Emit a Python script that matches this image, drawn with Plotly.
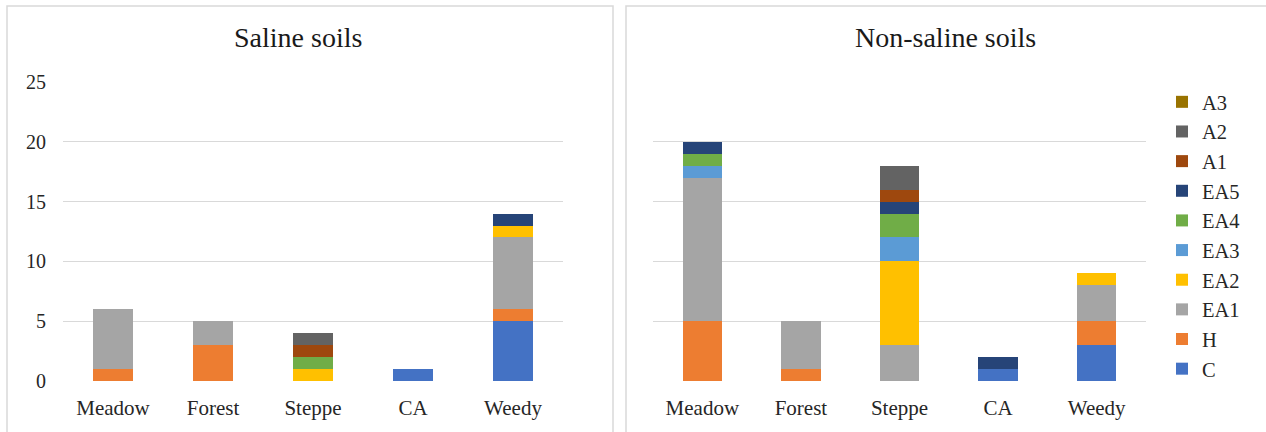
import plotly.graph_objects as go

W, H = 1266, 432

categories = ["Meadow", "Forest", "Steppe", "CA", "Weedy"]
series = ["C", "H", "EA1", "EA2", "EA3", "EA4", "EA5", "A1", "A2", "A3"]
colors = ["#4472C4", "#ED7D31", "#A5A5A5", "#FFC000", "#5B9BD5",
          "#70AD47", "#264478", "#9E480E", "#636363", "#997300"]

saline_C   = [0, 0, 0, 1, 5]
saline_H   = [1, 3, 0, 0, 1]
saline_EA1 = [5, 2, 0, 0, 6]
saline_EA2 = [0, 0, 1, 0, 1]
saline_EA3 = [0, 0, 0, 0, 0]
saline_EA4 = [0, 0, 1, 0, 0]
saline_EA5 = [0, 0, 0, 0, 1]
saline_A1  = [0, 0, 1, 0, 0]
saline_A2  = [0, 0, 1, 0, 0]
saline_A3  = [0, 0, 0, 0, 0]

nonsaline_C   = [0, 0, 0, 1, 3]
nonsaline_H   = [5, 1, 0, 0, 2]
nonsaline_EA1 = [12, 4, 3, 0, 3]
nonsaline_EA2 = [0, 0, 7, 0, 1]
nonsaline_EA3 = [1, 0, 2, 0, 0]
nonsaline_EA4 = [1, 0, 2, 0, 0]
nonsaline_EA5 = [1, 0, 1, 1, 0]
nonsaline_A1  = [0, 0, 1, 0, 0]
nonsaline_A2  = [0, 0, 2, 0, 0]
nonsaline_A3  = [0, 0, 0, 0, 0]

y_ticks = [0, 5, 10, 15, 20, 25]

saline = [saline_C, saline_H, saline_EA1, saline_EA2, saline_EA3,
          saline_EA4, saline_EA5, saline_A1, saline_A2, saline_A3]
nonsaline = [nonsaline_C, nonsaline_H, nonsaline_EA1, nonsaline_EA2, nonsaline_EA3,
             nonsaline_EA4, nonsaline_EA5, nonsaline_A1, nonsaline_A2, nonsaline_A3]

FONT = "Liberation Serif, Times New Roman, serif"
TXT = "#262626"
GRID = "#D9D9D9"


def px(x):
    return x / W


def py(y):
    return 1 - y / H


fig = go.Figure()
for name, col, vals in zip(series, colors, saline):
    fig.add_trace(go.Bar(x=categories, y=vals, name=name, marker_color=col,
                         marker_line_width=0, legendgroup=name, showlegend=False,
                         xaxis="x", yaxis="y"))
for name, col, vals in zip(series, colors, nonsaline):
    fig.add_trace(go.Bar(x=categories, y=vals, name=name, marker_color=col,
                         marker_line_width=0, legendgroup=name, showlegend=True,
                         xaxis="x2", yaxis="y2"))

ydom = [py(381), py(82)]
axis_common = dict(showline=False, zeroline=False, ticks="", automargin=False,
                   tickfont=dict(family=FONT, size=21, color=TXT))
fig.update_layout(
    template="none",
    width=W, height=H,
    margin=dict(l=0, r=0, t=0, b=0, pad=0),
    font=dict(family=FONT, color=TXT),
    paper_bgcolor="white", plot_bgcolor="white",
    barmode="stack", bargap=0.6,
    xaxis=dict(domain=[px(63), px(563)], anchor="y", showgrid=False,
               ticklabelstandoff=12, **axis_common),
    xaxis2=dict(domain=[px(653), px(1146)], anchor="y2", showgrid=False,
                ticklabelstandoff=12, **axis_common),
    yaxis=dict(domain=ydom, range=[0, 25], tickvals=y_ticks, showgrid=True,
               gridcolor=GRID, gridwidth=1, anchor="x", automargin=False,
               ticklabelstandoff=16,
               showline=False, zeroline=False, ticks="",
               tickfont=dict(family=FONT, size=20, color=TXT)),
    yaxis2=dict(domain=ydom, range=[0, 25], tickvals=y_ticks, showgrid=True,
                gridcolor=GRID, gridwidth=1, anchor="x2", automargin=False,
                showticklabels=False, showline=False, zeroline=False, ticks=""),
    legend=dict(x=px(1162), y=py(82), xanchor="left", yanchor="top",
                traceorder="reversed", font=dict(family=FONT, size=20.5, color=TXT),
                bgcolor="rgba(0,0,0,0)", borderwidth=0),
    annotations=[
        dict(text="Saline soils", x=px(298), y=py(37), xref="paper", yref="paper",
             showarrow=False, xanchor="center", yanchor="middle",
             font=dict(family=FONT, size=28, color="#1a1a1a")),
        dict(text="Non-saline soils", x=px(945), y=py(37), xref="paper", yref="paper",
             showarrow=False, xanchor="center", yanchor="middle",
             font=dict(family=FONT, size=28, color="#1a1a1a")),
    ],
    shapes=[
        dict(type="rect", xref="paper", yref="paper", x0=px(7), x1=px(613),
             y0=py(445), y1=py(6), line=dict(color=GRID, width=1.5)),
        dict(type="rect", xref="paper", yref="paper", x0=px(626), x1=px(1280),
             y0=py(445), y1=py(6), line=dict(color=GRID, width=1.5)),
    ],
)

fig.write_html("out.html")
